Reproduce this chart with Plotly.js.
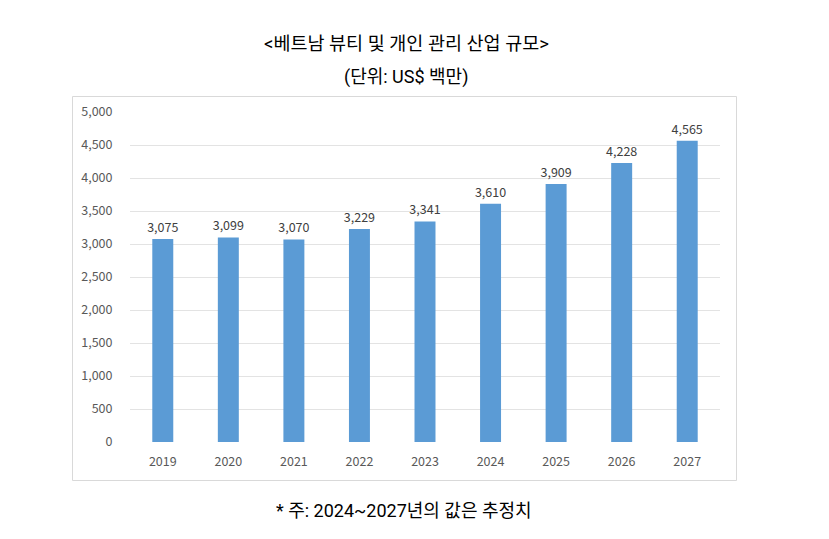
<!DOCTYPE html>
<html><head><meta charset="utf-8">
<script src="https://cdn.plot.ly/plotly-3.0.1.min.js"></script>
<style>body{margin:0;background:#fff}#c{width:829px;height:539px}</style>
</head><body><div id="c"></div>
<script>
const years = ['2019','2020','2021','2022','2023','2024','2025','2026','2027'];
const values = [3075, 3099, 3070, 3229, 3341, 3610, 3909, 4228, 4565];
const titleText = '&lt;베트남 뷰티 및 개인 관리 산업 규모&gt;';
const unitText = '(단위: US$ 백만)';
const noteText = '* 주: 2024~2027년의 값은 추정치';

const L=130, R=720, T=112, B=442, W=829, H=539;
const pw=R-L, ph=B-T;
const px = x => (x-L)/pw;
const py = y => (B-y)/ph;
const kfont = 'Roboto, "Noto Sans CJK KR", sans-serif';
const tfont = '"Noto Sans CJK KR", "Open Sans", sans-serif';

Plotly.newPlot('c', [{
  type:'bar', x: years, y: values,
  marker:{color:'#5b9bd5'},
  text: values.map(v=>v.toLocaleString('en-US')),
  textposition:'outside', cliponaxis:false, constraintext:'none',
  textfont:{family:tfont, size:12.5, color:'#404040'},
  hoverinfo:'none'
}], {
  width:W, height:H,
  margin:{l:L, r:W-R, t:T, b:H-B, pad:0},
  paper_bgcolor:'#fff', plot_bgcolor:'#fff',
  bargap:0.68,
  showlegend:false,
  xaxis:{type:'category', showgrid:false, zeroline:false, showline:false,
    ticks:'outside', ticklen:8, tickcolor:'rgba(0,0,0,0)',
    tickfont:{family:tfont, size:12.5, color:'#595959'}},
  yaxis:{range:[0,5000], dtick:500, tickformat:',d', showgrid:true, gridcolor:'#e3e3e3', gridwidth:1,
    zeroline:false, showline:false, ticks:'outside', ticklen:14, tickcolor:'rgba(0,0,0,0)',
    tickfont:{family:tfont, size:12.5, color:'#595959'}},
  shapes:[{type:'rect', xref:'paper', yref:'paper', x0:px(72.5), x1:px(736.5), y0:py(480.5), y1:py(96.5),
    line:{color:'#d9d9d9', width:1}, fillcolor:'rgba(0,0,0,0)', layer:'below'}],
  annotations:[
    {xref:'paper', yref:'paper', x:px(406), y:py(44), text:titleText, showarrow:false,
     font:{family:kfont, size:18.5, color:'#000'}, xanchor:'center', yanchor:'middle'},
    {xref:'paper', yref:'paper', x:px(406), y:py(77), text:unitText, showarrow:false,
     font:{family:kfont, size:18, color:'#000'}, xanchor:'center', yanchor:'middle'},
    {xref:'paper', yref:'paper', x:px(404), y:py(510), text:noteText, showarrow:false,
     font:{family:kfont, size:18, color:'#000'}, xanchor:'center', yanchor:'middle'}
  ]
}, {staticPlot:true});
</script></body></html>
